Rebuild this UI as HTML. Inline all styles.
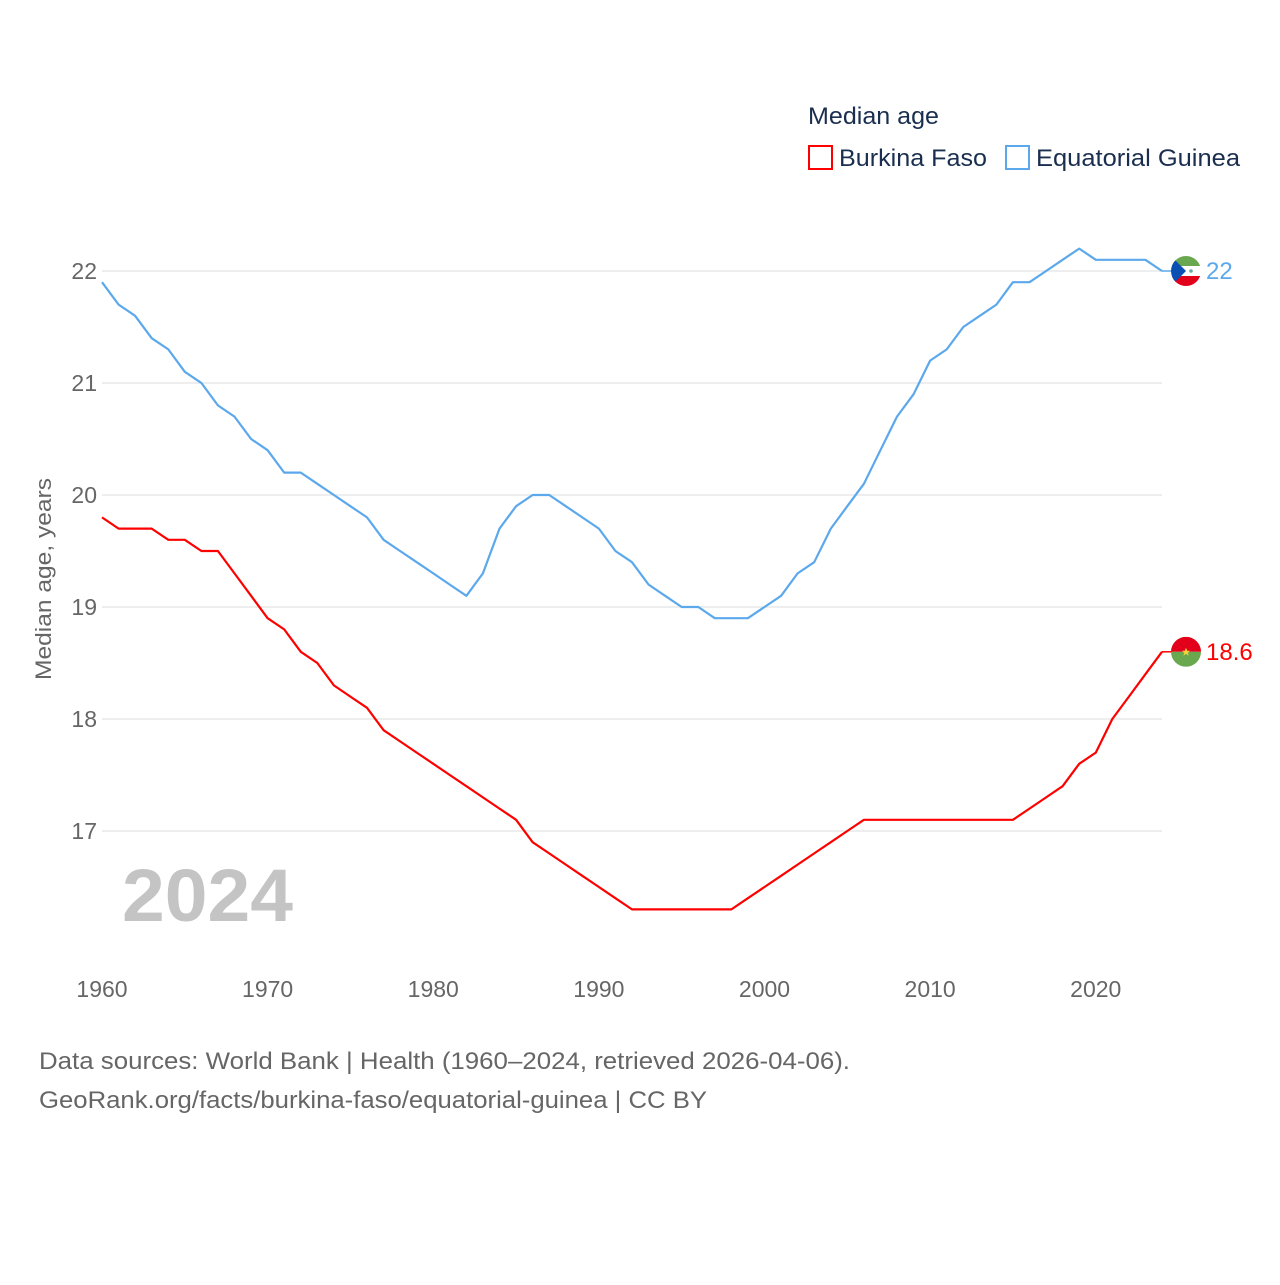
<!DOCTYPE html>
<html><head><meta charset="utf-8"><style>
html,body{margin:0;padding:0;background:#fff;}
body{width:1280px;height:1280px;overflow:hidden;font-family:"Liberation Sans",sans-serif;}
svg text{font-family:"Liberation Sans",sans-serif;}
</style></head><body>
<svg id="chart" width="1280" height="1280" xmlns="http://www.w3.org/2000/svg">
<g id="grid"></g>
<g id="yticks"></g>
<g id="xticks"></g>
<text x="122" y="921" font-size="74" font-weight="bold" fill="#c4c4c4" textLength="171" lengthAdjust="spacingAndGlyphs">2024</text>
<text transform="translate(51,579) rotate(-90)" text-anchor="middle" font-size="22" fill="#666" textLength="202" lengthAdjust="spacingAndGlyphs">Median age, years</text>
<g id="series"></g>
<g>
<text x="808" y="124" font-size="24" fill="#1a2e4f" textLength="131" lengthAdjust="spacingAndGlyphs">Median age</text>
<rect x="809" y="146" width="23" height="23" fill="none" stroke="#ff0000" stroke-width="2"/>
<text x="839" y="166" font-size="24" fill="#1a2e4f" textLength="148" lengthAdjust="spacingAndGlyphs">Burkina Faso</text>
<rect x="1006" y="146" width="23" height="23" fill="none" stroke="#5ba8ec" stroke-width="2"/>
<text x="1036" y="166" font-size="24" fill="#1a2e4f" textLength="204" lengthAdjust="spacingAndGlyphs">Equatorial Guinea</text>
</g>
<text x="39" y="1069" font-size="24" fill="#666" textLength="811" lengthAdjust="spacingAndGlyphs">Data sources: World Bank | Health (1960–2024, retrieved 2026-04-06).</text>
<text x="39" y="1108" font-size="24" fill="#666" textLength="668" lengthAdjust="spacingAndGlyphs">GeoRank.org/facts/burkina-faso/equatorial-guinea | CC BY</text>
</svg>
<script>
const years = [];
for (let y = 1960; y <= 2024; y++) years.push(y);
const burkinaFaso = [19.8,19.7,19.7,19.7,19.6,19.6,19.5,19.5,19.3,19.1,18.9,18.8,18.6,18.5,18.3,18.2,18.1,17.9,17.8,17.7,17.6,17.5,17.4,17.3,17.2,17.1,16.9,16.8,16.7,16.6,16.5,16.4,16.3,16.3,16.3,16.3,16.3,16.3,16.3,16.4,16.5,16.6,16.7,16.8,16.9,17.0,17.1,17.1,17.1,17.1,17.1,17.1,17.1,17.1,17.1,17.1,17.2,17.3,17.4,17.6,17.7,18.0,18.2,18.4,18.6];
const equatorialGuinea = [21.9,21.7,21.6,21.4,21.3,21.1,21.0,20.8,20.7,20.5,20.4,20.2,20.2,20.1,20.0,19.9,19.8,19.6,19.5,19.4,19.3,19.2,19.1,19.3,19.7,19.9,20.0,20.0,19.9,19.8,19.7,19.5,19.4,19.2,19.1,19.0,19.0,18.9,18.9,18.9,19.0,19.1,19.3,19.4,19.7,19.9,20.1,20.4,20.7,20.9,21.2,21.3,21.5,21.6,21.7,21.9,21.9,22.0,22.1,22.2,22.1,22.1,22.1,22.1,22.0];
const yTicks = [17,18,19,20,21,22];
const xTicks = [1960,1970,1980,1990,2000,2010,2020];

const NS = "http://www.w3.org/2000/svg";
const X = yr => 102 + (yr - 1960) * (1162 - 102) / 64;
const Y = v => 271 + (22 - v) * 112;
function mk(tag, attrs, parent){const e=document.createElementNS(NS,tag);for(const k in attrs)e.setAttribute(k,attrs[k]);parent.appendChild(e);return e;}
const grid=document.getElementById('grid'), yt=document.getElementById('yticks'), xt=document.getElementById('xticks'), ser=document.getElementById('series');
yTicks.forEach(t=>{
  const l=mk('line',{x1:102,x2:1162,y1:Y(t),y2:Y(t),stroke:'#e8e8e8','stroke-width':1.5},grid);
  
  
  const tx=mk('text',{x:97,y:Y(t)+8,'text-anchor':'end','font-size':23,fill:'#666'},yt);
  tx.textContent=t;
  
  
});
xTicks.forEach(t=>{
  const tx=mk('text',{x:X(t),y:997,'text-anchor':'middle','font-size':23,fill:'#666'},xt);
  tx.textContent=t;
  
  
});
function series(vals,color,name){
  const d=vals.map((v,i)=>(i?'L':'M')+X(years[i]).toFixed(1)+' '+Y(v).toFixed(1)).join(' ');
  const p=mk('path',{d:d,fill:'none',stroke:color,'stroke-width':2.2,'stroke-linejoin':'round'},ser);
  
  
  const last=vals[vals.length-1], ly=Y(last), lx=X(years[years.length-1]);
  const c=mk('line',{x1:lx,x2:lx+10,y1:ly,y2:ly,stroke:color,'stroke-width':1.5},ser);
  
  
  const lab=mk('text',{x:1206,y:ly+8,'font-size':24,fill:color},ser);
  lab.textContent=String(last);
  
  
  return ly;
}
const by=series(burkinaFaso,'#ff0000','burkina-faso');
const ey=series(equatorialGuinea,'#5ba8ec','equatorial-guinea');
const cx=1186;
const defs=mk('defs',{},ser);
const cp1=mk('clipPath',{id:'cf1'},defs); mk('circle',{cx:cx,cy:by,r:15},cp1);
const cp2=mk('clipPath',{id:'cf2'},defs); mk('circle',{cx:cx,cy:ey,r:15},cp2);
const f1=mk('g',{'clip-path':'url(#cf1)'},ser);


mk('rect',{x:cx-15,y:by-15,width:30,height:15,fill:'#e2001a'},f1);
mk('rect',{x:cx-15,y:by,width:30,height:15,fill:'#6aa84f'},f1);
mk('polygon',{points:`${cx},${by-4} ${cx+1.2},${by-1} ${cx+4},${by-1} ${cx+1.8},${by+1} ${cx+2.6},${by+4} ${cx},${by+2} ${cx-2.6},${by+4} ${cx-1.8},${by+1} ${cx-4},${by-1} ${cx-1.2},${by-1}`,fill:'#f5d33a'},f1);
const f2=mk('g',{'clip-path':'url(#cf2)'},ser);


mk('rect',{x:cx-15,y:ey-15,width:30,height:10,fill:'#6aa84f'},f2);
mk('rect',{x:cx-15,y:ey-5,width:30,height:10,fill:'#fff'},f2);
mk('rect',{x:cx-15,y:ey+5,width:30,height:10,fill:'#e2001a'},f2);
mk('polygon',{points:`${cx-15},${ey-15} ${cx},${ey} ${cx-15},${ey+15}`,fill:'#0b4fb3'},f2);
mk('circle',{cx:cx+5,cy:ey,r:1.8,fill:'#6a9'},f2);
</script>
</body></html>
